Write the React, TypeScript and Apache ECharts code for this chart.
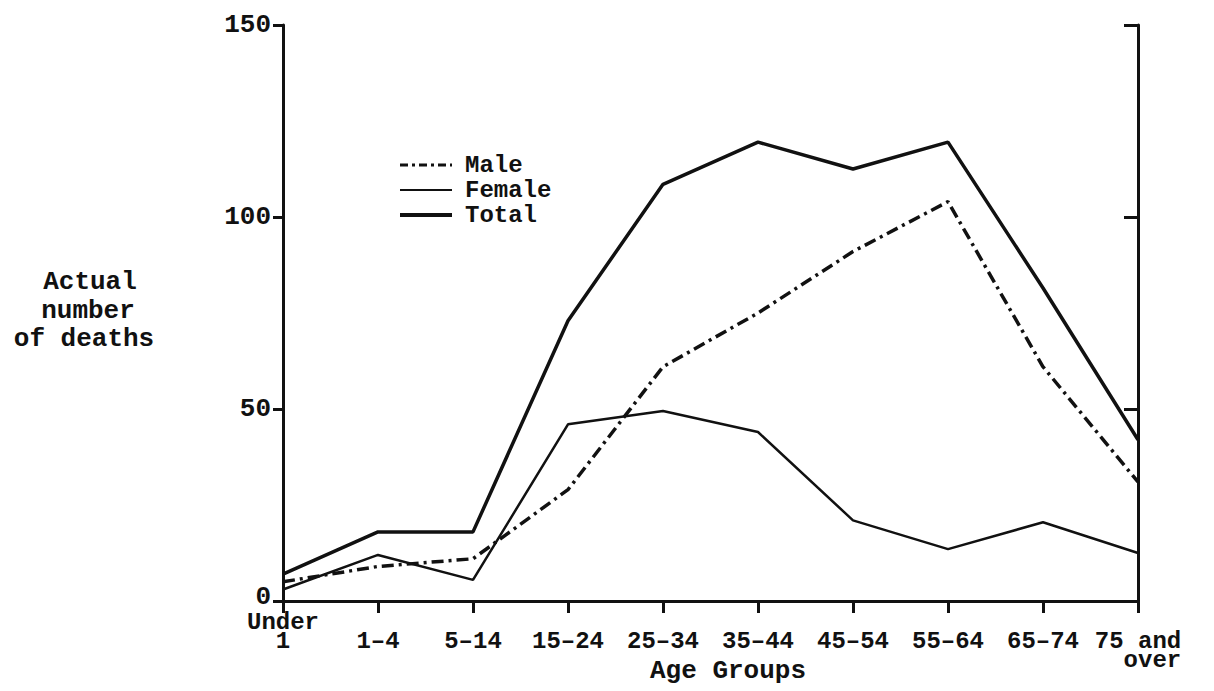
import React, { useEffect, useRef } from "react";
import * as echarts from "echarts";

const categories = ["Under 1", "1-4", "5-14", "15-24", "25-34", "35-44", "45-54", "55-64", "65-74", "75 and over"];
const categoryLabels = ["Under\n1", "\n1–4", "\n5–14", "\n15–24", "\n25–34", "\n35–44", "\n45–54", "\n55–64", "\n65–74", "\n75 and\n  over"];
const maleValues = [5, 9, 11, 29, 61, 75, 91, 104, 61, 31];
const femaleValues = [3, 12, 5.5, 46, 49.5, 44, 21, 13.5, 20.5, 12.5];
const totalValues = [7, 18, 18, 73, 108.5, 119.5, 112.5, 119.5, 81.5, 42];
const yTicks = [0, 50, 100, 150];
const yTitleLines = ["Actual", "number", "of deaths"];

const FONT = "'Liberation Mono', 'DejaVu Sans Mono', monospace";
const INK = "#111";

export default function App() {
  const ref = useRef<HTMLDivElement>(null);
  useEffect(() => {
    if (!ref.current) return;
    const chart = echarts.init(ref.current, undefined, { renderer: "svg" });
    const labelMap: Record<string, string> = {};
    categories.forEach((c, i) => (labelMap[c] = categoryLabels[i]));
    const axisLine = { show: true, lineStyle: { color: INK, width: 3 } };
    const textBase = { fontFamily: FONT, fontSize: 26, fontWeight: "bold" };
    chart.setOption({
      animation: false,
      backgroundColor: "#fff",
      grid: { left: 283, right: 76, top: 25, bottom: 90, containLabel: false },
      legend: {
        orient: "vertical",
        left: 393,
        top: 148,
        itemWidth: 52,
        itemHeight: 12,
        itemGap: 1,
        itemStyle: { opacity: 0 },
        textStyle: { ...textBase, fontSize: 24, color: INK, lineHeight: 21, padding: [0, 0, 0, 8] },
        data: [
          { name: "Male", lineStyle: { width: 3, type: [8, 4, 3, 4], color: INK } },
          { name: "Female", lineStyle: { width: 2, type: "solid", color: INK } },
          { name: "Total", lineStyle: { width: 4, type: "solid", color: INK } },
        ],
      },
      xAxis: [
        {
          type: "category",
          data: categories,
          boundaryGap: false,
          position: "bottom",
          axisLine,
          axisTick: { show: true, inside: false, length: 12, lineStyle: { color: INK, width: 3 } },
          axisLabel: {
            interval: 0,
            margin: 12,
            ...textBase,
            fontSize: 24,
            color: INK,
            lineHeight: 19,
            formatter: (v: string) => labelMap[v] ?? v,
          },
          splitLine: { show: false },
        },
        {
          type: "category",
          data: categories,
          boundaryGap: false,
          position: "top",
          axisLine,
          axisTick: { show: true, inside: true, length: 12, lineStyle: { color: INK, width: 3 } },
          axisLabel: { show: false },
          splitLine: { show: false },
        },
      ],
      yAxis: [
        {
          type: "value",
          min: 0,
          max: 150,
          interval: 50,
          position: "left",
          axisLine,
          axisTick: { show: true, inside: false, length: 10, lineStyle: { color: INK, width: 3 } },
          axisLabel: {
            margin: 12,
            ...textBase,
            color: INK,
            formatter: (v: number) => (v === 0 ? "{z|0}" : yTicks.includes(v) ? String(v) : ""),
            rich: { z: { ...textBase, color: INK, padding: [0, 0, 9, 0] } },
          },
          splitLine: { show: false },
        },
        {
          type: "value",
          min: 0,
          max: 150,
          interval: 50,
          position: "right",
          axisLine,
          axisTick: { show: true, inside: true, length: 14, lineStyle: { color: INK, width: 3 } },
          axisLabel: { show: false },
          splitLine: { show: false },
        },
      ],
      graphic: [
        ...yTitleLines.map((t, i) => ({
          type: "text",
          x: [90, 88, 84][i],
          y: [282, 311, 339][i],
          style: {
            text: t,
            align: "center",
            textAlign: "center",
            verticalAlign: "middle",
            textVerticalAlign: "middle",
            ...textBase,
            fill: INK,
          },
        })),
        {
          type: "text",
          x: 728,
          y: 671,
          style: {
            text: "Age Groups",
            align: "center",
            textAlign: "center",
            verticalAlign: "middle",
            textVerticalAlign: "middle",
            ...textBase,
            fill: INK,
          },
        },
      ],
      series: [
        {
          name: "Male",
          type: "line",
          data: maleValues,
          symbol: "none",
          lineStyle: { color: INK, width: 3.5, type: [12, 5, 3, 5] },
          itemStyle: { color: INK },
        },
        {
          name: "Female",
          type: "line",
          data: femaleValues,
          symbol: "none",
          lineStyle: { color: INK, width: 2.5, type: "solid" },
          itemStyle: { color: INK },
        },
        {
          name: "Total",
          type: "line",
          data: totalValues,
          symbol: "none",
          lineStyle: { color: INK, width: 3.5, type: "solid" },
          itemStyle: { color: INK },
        },
      ],
    });
    return () => chart.dispose();
  }, []);
  return (
    <div
      ref={ref}
      style={{ position: "absolute", left: 0, top: 0, width: 1214, height: 691, background: "#fff" }}
    />
  );
}
